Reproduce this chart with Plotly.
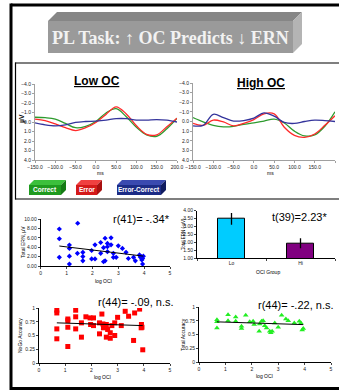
import plotly.graph_objects as go

W, H = 339, 391

# ---- ERP waveforms (µV, negative plotted upward) ----
erp_time = [-150, -125, -100, -75, -50, -25, 0, 25, 50, 75, 100, 125, 150, 175, 200]
low_correct = [-0.5, -0.45, -0.3, 0.15, 0.6, 0.45, -0.05, -0.95, -1.4, -0.55, 0.55, 1.35, 1.5, 0.7, -0.4]
low_error = [-0.3, -0.15, 0.2, 0.6, 0.9, 0.6, 0.05, -0.8, -1.6, -0.85, 0.4, 1.3, 1.35, 0.5, -0.4]
low_diff = [0.1, 0.3, 0.4, 0.3, 0.05, -0.05, -0.1, -0.2, -0.35, -0.35, -0.2, -0.2, -0.25, -0.2, 0.0]
high_correct = [-0.4, 0.05, 0.4, 0.55, 0.5, 0.3, 0.15, -0.05, -0.25, 0.15, 1.0, 1.5, 1.4, 0.5, -1.0]
high_error = [0.2, 0.4, -0.15, 0.05, 0.45, 0.2, -0.2, -0.8, -0.8, 0.6, 1.45, 1.65, 1.3, 0.4, -0.6]
high_diff = [0.45, 0.4, -0.75, -0.4, -0.05, -0.1, -0.35, -0.9, -0.55, 0.1, 0.2, 0.0, -0.15, -0.1, 0.0]
erp_yticks = [-4, -3, -2, -1, 0, 1, 2, 3, 4]
erp_xticks = [-150, -100, -50, 0, 50, 100, 150, 200]

# ---- log OCI vs Total ERN ----
ern_oci = [0.72, 0.72, 0.72, 1.43, 1.11, 1.11, 1.11, 1.11, 1.42, 1.63, 1.63, 1.63, 1.97, 1.97,
           2.1, 2.1, 2.32, 2.32, 2.43, 2.49, 2.43, 2.49, 2.58, 2.58, 2.58, 2.72, 2.72, 2.81,
           2.81, 2.92, 3.0, 3.16, 3.3, 3.39, 3.59, 3.66, 3.82, 3.88, 3.91, 3.94, 3.94, 3.97, 3.85]
ern_val = [7.87, 5.8, 1.85, 9.1, 4.47, 3.75, 2.1, 0.4, 2.7, 2.9, 2.0, 1.1, 3.3, 1.5,
           1.5, 4.5, 5.0, 2.7, 3.9, 5.9, 0.9, 1.1, 4.8, 4.1, 3.05, 6.0, 4.5, 2.7,
           1.85, 1.85, 4.3, 3.75, 2.9, 1.6, 1.85, 1.1, 2.35, 2.0, 1.3, 1.6, 0.4, 2.1, 1.9]
ern_trend_x = [0.72, 3.97]
ern_trend_y = [4.25, 2.1]

# ---- OCI group means ----
groups = ["Lo", "Hi"]
group_ern = [3.48, 1.95]
group_err = [0.37, 0.31]
group_colors = ["#00ccff", "#800080"]

# ---- log OCI vs NoGo accuracy ----
nogo_oci = [0.68, 0.68, 0.68, 0.68, 1.1, 1.1, 1.1, 1.1, 1.4, 1.4, 1.4, 1.62, 1.62, 1.79,
            1.95, 1.97, 2.08, 2.08, 2.31, 2.31, 2.4, 2.44, 2.46, 2.57, 2.57, 2.62, 2.72,
            2.72, 2.78, 2.89, 2.89, 3.0, 3.14, 3.29, 3.42, 3.61, 3.65, 3.84, 3.91, 3.9,
            3.93, 3.96]
nogo_acc = [0.96, 0.91, 0.62, 0.44, 0.80, 0.77, 0.65, 0.30, 0.96, 0.84, 0.62, 0.73, 0.47, 0.84,
            0.82, 0.70, 0.82, 0.68, 0.73, 0.53, 0.89, 0.71, 0.64, 0.70, 0.47, 0.61, 0.55,
            0.45, 0.68, 0.73, 0.50, 0.83, 0.68, 0.94, 0.85, 0.41, 0.91, 0.98, 0.70, 0.64,
            0.65, 0.24]
nogo_trend_x = [0.68, 3.96]
nogo_trend_y = [0.73, 0.68]

# ---- log OCI vs total accuracy ----
tot_oci = [0.68, 0.68, 0.68, 1.1, 1.1, 1.39, 1.39, 1.61, 1.61, 1.77, 1.92, 2.05, 2.09, 2.28,
           2.3, 2.37, 2.43, 2.49, 2.56, 2.68, 2.72, 2.77, 2.87, 3.0, 3.13, 3.29, 3.38, 3.61,
           3.8, 3.86, 3.91, 3.95]
tot_acc = [0.77, 0.73, 0.62, 0.86, 0.75, 0.82, 0.74, 0.65, 0.61, 0.85, 0.73, 0.74, 0.68, 0.56,
           0.69, 0.74, 0.75, 0.66, 0.62, 0.56, 0.53, 0.56, 0.71, 0.63, 0.85, 0.78, 0.75, 0.71,
           0.74, 0.71, 0.58, 0.61]
tot_trend_x = [0.68, 3.95]
tot_trend_y = [0.73, 0.68]


def px(x):
    return x / W


def py(y):
    return 1 - y / H


GREEN, RED, BLUE = "#2e9b2e", "#ff2a2a", "#34349c"
fig = go.Figure()

# ERP traces
for ax, series in (("", (low_correct, low_error, low_diff)),
                   ("2", (high_correct, high_error, high_diff))):
    for vals, col in zip(series, (GREEN, RED, BLUE)):
        fig.add_trace(go.Scatter(x=erp_time, y=vals, mode="lines", line=dict(color=col, width=1.3, shape="spline"),
                                 xaxis="x" + ax, yaxis="y" + ax, showlegend=False))

# Scatter: Total ERN
fig.add_trace(go.Scatter(x=ern_oci, y=ern_val, mode="markers",
                         marker=dict(symbol="diamond", size=4, color="#0000ff"),
                         xaxis="x3", yaxis="y3", showlegend=False))
fig.add_trace(go.Scatter(x=ern_trend_x, y=ern_trend_y, mode="lines", line=dict(color="black", width=1),
                         xaxis="x3", yaxis="y3", showlegend=False))

# Bars
fig.add_trace(go.Bar(x=groups, y=group_ern, marker=dict(color=group_colors, line=dict(color="black", width=1)),
                     width=0.4,
                     error_y=dict(type="data", array=group_err, color="black", thickness=1.3, width=0),
                     xaxis="x4", yaxis="y4", showlegend=False))

# Scatter: NoGo accuracy
fig.add_trace(go.Scatter(x=nogo_oci, y=nogo_acc, mode="markers",
                         marker=dict(symbol="square", size=5, color="#ff0000"),
                         xaxis="x5", yaxis="y5", showlegend=False))
fig.add_trace(go.Scatter(x=nogo_trend_x, y=nogo_trend_y, mode="lines", line=dict(color="black", width=1),
                         xaxis="x5", yaxis="y5", showlegend=False))

# Scatter: total accuracy
fig.add_trace(go.Scatter(x=tot_oci, y=tot_acc, mode="markers",
                         marker=dict(symbol="triangle-up", size=5, color="#22ee22"),
                         xaxis="x6", yaxis="y6", showlegend=False))
fig.add_trace(go.Scatter(x=tot_trend_x, y=tot_trend_y, mode="lines", line=dict(color="black", width=1),
                         xaxis="x6", yaxis="y6", showlegend=False))

tickfont = dict(family="Arial", size=5, color="#222")


def erp_axes(xdom, ydom, anchor_x, anchor_y):
    xa = dict(domain=xdom, anchor=anchor_y, range=[-150, 200], tickvals=erp_xticks, tickformat=".1f",
              showline=True, linecolor="#a0a0a0", linewidth=1, ticks="outside", ticklen=2, tickcolor="#a0a0a0",
              showgrid=False, zeroline=False, tickfont=tickfont, automargin=False)
    ya = dict(domain=ydom, anchor=anchor_x, range=[4, -4], tickvals=erp_yticks, tickformat=".1f",
              showline=True, linecolor="#a0a0a0", linewidth=1, ticks="outside", ticklen=2, tickcolor="#a0a0a0",
              showgrid=False, zeroline=False, tickfont=tickfont, automargin=False)
    return xa, ya


def plain_axes(xdom, ydom, anchor_x, anchor_y, xr, xdt, yr, ydt, yfmt):
    xa = dict(domain=xdom, anchor=anchor_y, range=xr, dtick=xdt, showline=True, linecolor="black",
              linewidth=1, ticks="outside", ticklen=2, showgrid=False, zeroline=False, tickfont=tickfont,
              automargin=False)
    ya = dict(domain=ydom, anchor=anchor_x, range=yr, dtick=ydt, tickformat=yfmt, showline=True,
              linecolor="black", linewidth=1, ticks="outside", ticklen=2, showgrid=False, zeroline=False,
              tickfont=tickfont, automargin=False)
    return xa, ya


x1, y1 = erp_axes([px(35), px(177)], [py(160), py(84)], "x", "y")
x2, y2 = erp_axes([px(193), px(335)], [py(160), py(83)], "x2", "y2")
x3, y3 = plain_axes([px(40.7), px(170)], [py(266), py(219)], "x3", "y3", [0, 5], 1, [0, 10], 2, ".2f")
x5, y5 = plain_axes([px(39), px(170)], [py(363), py(308)], "x5", "y5", [0, 5], 1, [0, 1], 0.25, "")
x6, y6 = plain_axes([px(199), px(331)], [py(362), py(307)], "x6", "y6", [0, 5], 1, [0, 1], 0.25, "")
x4 = dict(domain=[px(197), px(335)], anchor="y4", type="category", range=[-0.5, 1.5], tickson="boundaries",
          showline=True, linecolor="black", linewidth=1, ticks="outside", ticklen=2, showgrid=False,
          tickfont=tickfont, automargin=False)
y4 = dict(domain=[py(258.3), py(210.7)], anchor="x4", range=[1, 4], dtick=0.5, tickformat=".2f",
          showline=True, linecolor="black", linewidth=1, ticks="outside", ticklen=2, showgrid=False,
          zeroline=False, tickfont=tickfont, automargin=False)

shapes = []


def seg(x0, y0, x1_, y1_, color, width):
    shapes.append(dict(type="line", xref="paper", yref="paper", x0=px(x0), x1=px(x1_), y0=py(y0), y1=py(y1_),
                       line=dict(color=color, width=width), layer="above"))


def poly(points, fill):
    d = "M " + " L ".join(f"{px(a):.5f},{py(b):.5f}" for a, b in points) + " Z"
    shapes.append(dict(type="path", xref="paper", yref="paper", path=d, fillcolor=fill,
                       line=dict(width=0), layer="below"))


def box3d(x0, y0, x1_, y1_, d, front, top, side):
    poly([(x0, y0), (x0 + d, y0 - d), (x1_ + d, y0 - d), (x1_, y0)], top)
    poly([(x1_, y0), (x1_ + d, y0 - d), (x1_ + d, y1_ - d), (x1_, y1_)], side)
    poly([(x0, y0), (x1_, y0), (x1_, y1_), (x0, y1_)], front)


# slide frame (open to the right) and ERP panel frame
seg(11, 5, W, 5, "black", 3)
seg(11, 3.5, 11, 390, "black", 3)
seg(11, 388.5, W, 388.5, "black", 3)
seg(15.5, 63, W, 63, "black", 1.2)
seg(15.5, 199, W, 199, "black", 1.2)
seg(15.5, 62.4, 15.5, 199.6, "black", 1.2)

# title block and legend blocks
box3d(48, 21, 293, 53, 9, "#9a9a9a", "#868686", "#b4b4b4")
box3d(29, 185, 61, 195, 5, "#1f9a1f", "#3cc03c", "#157a15")
box3d(76, 185, 97, 195, 5, "#d41a1a", "#f04040", "#a81010")
box3d(117, 185, 161, 195, 5, "#1c2c86", "#3a4ab0", "#101c60")

annotations = []


def text(x, y, s, size, color="black", family="Arial", angle=0, xanchor="center"):
    annotations.append(dict(x=px(x), y=py(y), xref="paper", yref="paper", text=s, showarrow=False,
                            font=dict(family=family, size=size, color=color), textangle=angle,
                            xanchor=xanchor, yanchor="middle"))


text(170.5, 37.5, "<b>PL Task: ↑ OC Predicts ↓ ERN</b>", 18, "#f2f2f2", "Liberation Serif")
text(97, 81, "<b><u>Low OC</u></b>", 12)
text(261, 83, "<b><u>High OC</u></b>", 12)
text(22, 119, "<b>µV</b>", 7, angle=-90)
text(100, 172.5, "ms", 5)
text(270, 173.5, "ms", 5)
text(45, 190, "<b>Correct</b>", 6.5, "white")
text(86.5, 190, "<b>Error</b>", 6.5, "white")
text(139, 190, "<b>Error-Correct</b>", 6.5, "white")
text(141, 219, "r(41)= -.34*", 11)
text(299, 217, "t(39)=2.23*", 11)
text(136, 302, "r(44)= -.09, n.s.", 11)
text(296, 305, "r(44)= -.22, n.s.", 11)
text(103, 281, "log OCI", 5)
text(102, 377, "log OCI", 5)
text(264, 376, "log OCI", 5)
text(268, 272, "OCI Group", 5)
text(23, 242, "Total ERN, µV", 5, angle=-90)
text(183, 234, "Total ERN (-µV)", 4.5, angle=-90)
text(20, 336, "NoGo Accuracy", 5, angle=-90)
text(183, 334, "Total Accuracy", 5, angle=-90)

fig.update_layout(
    width=W, height=H, autosize=False, margin=dict(l=0, r=0, t=0, b=0, autoexpand=False),
    paper_bgcolor="white", plot_bgcolor="rgba(0,0,0,0)",
    xaxis=x1, yaxis=y1, xaxis2=x2, yaxis2=y2, xaxis3=x3, yaxis3=y3,
    xaxis4=x4, yaxis4=y4, xaxis5=x5, yaxis5=y5, xaxis6=x6, yaxis6=y6,
    shapes=shapes, annotations=annotations, showlegend=False, bargap=0,
)

fig.write_html("out.html",
               post_script="document.body.style.margin='0';document.documentElement.style.overflow='hidden';")
